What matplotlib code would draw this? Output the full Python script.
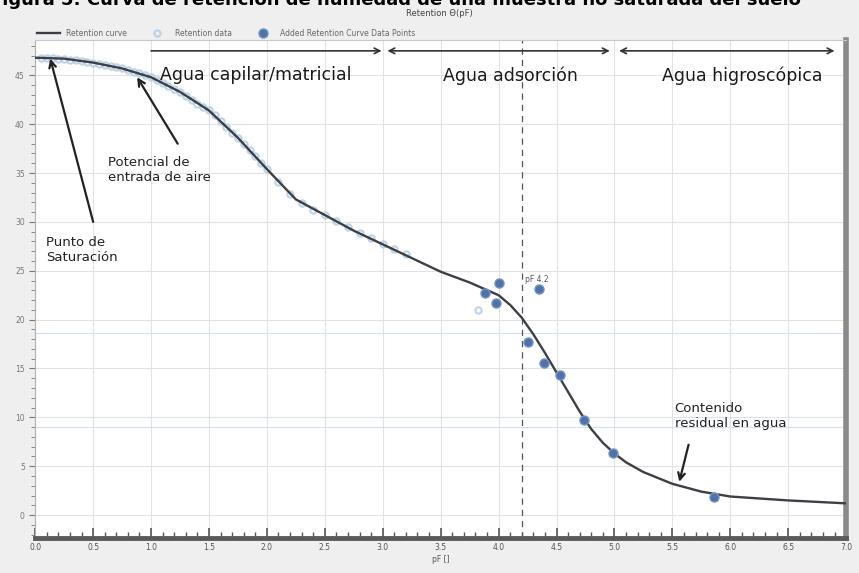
import numpy as np
import matplotlib
matplotlib.use("Agg")
import matplotlib.pyplot as plt
from matplotlib.ticker import MultipleLocator

# curva de retencion (pF, theta %)
curve_pf = [0.0, 0.25, 0.5, 0.75, 1.0, 1.25, 1.5, 1.75, 2.0, 2.25, 2.5, 2.75,
            3.0, 3.25, 3.5, 3.75, 4.0, 4.1, 4.2, 4.3, 4.4, 4.5, 4.6, 4.7,
            4.8, 4.9, 5.0, 5.1, 5.25, 5.5, 5.75, 6.0, 6.25, 6.5, 6.75, 7.0]
curve_theta = [46.8, 46.7, 46.3, 45.7, 44.8, 43.3, 41.4, 38.6, 35.4, 32.3, 30.7, 29.1,
               27.7, 26.3, 24.9, 23.8, 22.5, 21.5, 20.2, 18.5, 16.6, 14.6, 12.6, 10.6,
               8.8, 7.4, 6.3, 5.4, 4.4, 3.2, 2.4, 1.9, 1.7, 1.5, 1.35, 1.2]

# datos medidos (circulos claros)
data_pf = [0.05, 0.1, 0.15, 0.2, 0.25, 0.3, 0.35, 0.4, 0.45, 0.5, 0.55, 0.6, 0.65,
           0.7, 0.75, 0.8, 0.85, 0.9, 0.95, 1.0, 1.05, 1.1, 1.15, 1.2, 1.25, 1.3,
           1.35, 1.4, 1.45, 1.5, 1.55, 1.6, 1.65, 1.7, 1.75, 1.8, 1.85, 1.9, 1.95,
           2.0, 2.1, 2.2, 2.3, 2.4, 2.5, 2.6, 2.7, 2.8, 2.9, 3.0, 3.1, 3.2, 3.82]
data_theta = [46.8, 46.8, 46.8, 46.7, 46.7, 46.6, 46.6, 46.5, 46.4, 46.3, 46.2, 46.1, 46.0,
              45.8, 45.7, 45.5, 45.3, 45.2, 45.0, 44.8, 44.5, 44.2, 43.9, 43.6, 43.3, 42.9,
              42.5, 42.1, 41.8, 41.4, 40.9, 40.3, 39.7, 39.1, 38.6, 38.0, 37.4, 36.7, 36.0,
              35.4, 34.1, 32.9, 31.9, 31.2, 30.7, 30.1, 29.5, 28.9, 28.4, 27.7, 27.2, 26.7, 21.0]

# puntos agregados (circulos oscuros)
added_pf = [3.88, 4.0, 3.98, 4.35, 4.25, 4.39, 4.53, 4.74, 4.99, 5.86]
added_theta = [22.7, 23.7, 21.7, 23.1, 17.7, 15.6, 14.3, 9.7, 6.4, 1.9]

zone_labels = ["Agua capilar/matricial", "Agua adsorción", "Agua higroscópica"]
zone_x = [1.08, 4.1, 6.1]

fig = plt.figure(figsize=(8.59, 5.73), dpi=100)
fig.patch.set_facecolor("#efefef")
ax = fig.add_axes([0.041, 0.061, 0.944, 0.869])
ax.set_facecolor("white")

h_data, = ax.plot(data_pf, data_theta, "o", ms=4.5, mfc="none", mec="#b4cde6", mew=1.6,
                  alpha=0.85, label="Retention data", zorder=2)
h_curve, = ax.plot(curve_pf, curve_theta, "-", color="#3c3f46", lw=1.7, label="Retention curve", zorder=3)
h_added, = ax.plot(added_pf, added_theta, "o", ms=6.5, color="#4f73a8", mec="#7393c2",
                   label="Added Retention Curve Data Points", zorder=4)

ax.axvline(4.2, color="#555555", lw=0.9, ls=(0, (5, 4)), zorder=2)
ax.text(4.23, 23.9, "pF 4.2", fontsize=5.5, color="#555555")

ax.set_xlim(0, 7)
ax.set_ylim(-2.35, 48.6)
ax.xaxis.set_major_locator(MultipleLocator(0.5))
ax.xaxis.set_minor_locator(MultipleLocator(0.1))
ax.yaxis.set_major_locator(MultipleLocator(5))
ax.yaxis.set_minor_locator(MultipleLocator(1))
ax.grid(True, which="major", color="#e2e2e2", lw=0.8)
ax.set_axisbelow(True)
for yv in [18.6, 9.0]:
    ax.axhline(yv, color="#d3e1ef", lw=0.8, zorder=1)

ax.tick_params(axis="x", which="both", direction="in", colors="#555555", labelsize=5.5)
ax.tick_params(axis="x", which="major", length=7, width=1.2)
ax.tick_params(axis="x", which="minor", length=4, width=1.0)
ax.tick_params(axis="y", which="both", direction="out", colors="#777777", labelsize=5.5)
ax.tick_params(axis="y", which="major", length=4)
ax.tick_params(axis="y", which="minor", length=3)
ax.xaxis.set_major_formatter(matplotlib.ticker.FormatStrFormatter("%.1f"))
ax.spines["bottom"].set_linewidth(3.5)
ax.spines["bottom"].set_color("#5a5a5a")
ax.spines["right"].set_linewidth(4)
ax.spines["right"].set_color("#8a8a8a")
ax.spines["left"].set_color("#b0b0b0")
ax.spines["top"].set_color("#c8c8c8")
ax.set_xlabel("pF []", fontsize=5.5, color="#555555", labelpad=2)

# flechas de zonas
ax.annotate("", xy=(2.99, 47.5), xytext=(1.0, 47.5),
            arrowprops=dict(arrowstyle="->", color="#333333", lw=1.2, shrinkA=0, shrinkB=0))
ax.annotate("", xy=(4.96, 47.5), xytext=(3.04, 47.5),
            arrowprops=dict(arrowstyle="<->", color="#333333", lw=1.2, shrinkA=0, shrinkB=0))
ax.annotate("", xy=(6.9, 47.5), xytext=(5.04, 47.5),
            arrowprops=dict(arrowstyle="<->", color="#333333", lw=1.2, shrinkA=0, shrinkB=0))
ax.text(zone_x[0], 45.0, zone_labels[0], fontsize=12.5, color="#1a1a1a", va="center")
ax.text(zone_x[1], 45.0, zone_labels[1], fontsize=12.5, color="#1a1a1a", va="center", ha="center")
ax.text(zone_x[2], 45.0, zone_labels[2], fontsize=12.5, color="#1a1a1a", va="center", ha="center")

# anotaciones
arrow_kw = dict(arrowstyle="->", color="#222222", lw=1.6, mutation_scale=12, shrinkA=0, shrinkB=0)
ax.annotate("", xy=(0.13, 46.7), xytext=(0.5, 30.0), arrowprops=arrow_kw)
ax.text(0.09, 27.1, "Punto de\nSaturación", fontsize=9.5, color="#222222", va="center", linespacing=1.2)
ax.annotate("", xy=(0.88, 44.8), xytext=(1.23, 38.0), arrowprops=arrow_kw)
ax.text(0.63, 35.3, "Potencial de\nentrada de aire", fontsize=9.5, color="#222222", va="center", linespacing=1.2)
ax.annotate("", xy=(5.56, 3.4), xytext=(5.64, 7.2), arrowprops=arrow_kw)
ax.text(5.52, 10.1, "Contenido\nresidual en agua", fontsize=9.5, color="#222222", va="center", linespacing=1.2)

fig.text(0.512, 1 - 13 / 573, "Retention \u0398(pF)", fontsize=6, color="#444444", ha="center", va="center")
fig.legend(handles=[h_curve, h_data, h_added], loc="center left",
           bbox_to_anchor=(0.035, 1 - 33 / 573), ncol=3, frameon=False,
           fontsize=5.5, labelcolor="#666666", handlelength=3, columnspacing=2.5, handletextpad=0.8)
fig.text(-0.012, 1.0, "Figura 5: Curva de retención de humedad de una muestra no saturada del suelo",
         fontsize=13, fontweight="bold", va="center", ha="left")

fig.savefig("out.png", dpi=100, facecolor=fig.get_facecolor())
